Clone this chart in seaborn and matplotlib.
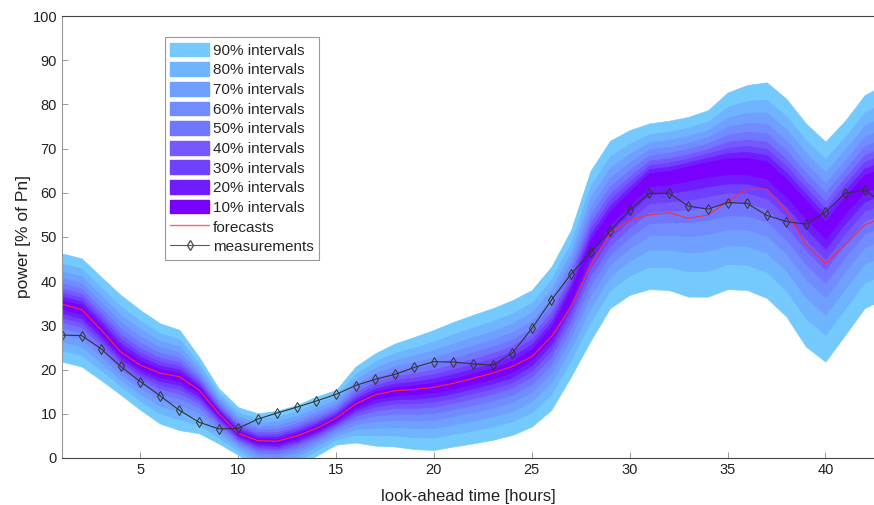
import numpy as np
import pandas as pd
import seaborn as sns
import matplotlib.pyplot as plt
from matplotlib.patches import Patch
from matplotlib.lines import Line2D

# data (hour 43 lies just past the right edge)
hours = list(range(1, 44))
measured = [27.8, 27.7, 24.7, 20.7, 17.3, 14.1, 10.8, 8.1, 6.6, 6.7,
            8.8, 10.2, 11.5, 12.9, 14.4, 16.4, 17.8, 18.9, 20.5, 21.8,
            21.7, 21.3, 21.0, 23.7, 29.3, 35.7, 41.6, 46.5, 51.4, 56.1,
            59.9, 59.9, 57.0, 56.3, 57.8, 57.6, 54.9, 53.5, 52.9, 55.6,
            59.9, 60.6, 57.5]
forecast = [34.8, 33.6, 29.0, 24.0, 21.0, 19.2, 18.4, 15.4, 10.1, 5.6,
            3.9, 3.8, 5.0, 6.7, 9.0, 12.2, 14.3, 15.2, 15.5, 16.0,
            16.9, 18.0, 19.2, 20.7, 22.9, 27.4, 34.2, 43.5, 50.8, 53.8,
            55.0, 55.5, 54.2, 55.0, 58.0, 60.8, 60.8, 56.1, 48.2, 44.0,
            48.2, 52.7, 54.6]
# middle of the darkest (10%) band
center = [34.8, 33.6, 29.0, 24.0, 21.0, 19.2, 18.4, 15.4, 10.1, 5.6,
          3.9, 3.8, 5.0, 6.7, 9.0, 12.2, 14.3, 15.2, 15.5, 16.0,
          16.9, 18.0, 19.2, 20.7, 23.5, 28.5, 37.0, 48.0, 54.5, 59.0,
          63.5, 64.0, 65.0, 66.0, 66.5, 66.5, 65.5, 61.5, 56.8, 52.0,
          57.7, 62.5, 64.0]
upper90 = [46.3, 45.2, 41.0, 36.9, 33.5, 30.5, 29.0, 22.9, 15.8, 11.5,
           10.1, 10.7, 12.0, 13.9, 15.4, 20.7, 23.7, 25.9, 27.4, 29.0,
           30.8, 32.4, 33.9, 35.7, 38.0, 43.3, 51.6, 65.0, 71.8, 74.2,
           75.7, 76.3, 77.2, 78.7, 82.7, 84.4, 85.0, 81.3, 75.7, 71.6,
           76.3, 82.1, 84.5]
lower90 = [21.8, 20.7, 17.6, 14.3, 10.9, 7.8, 6.3, 5.6, 3.3, 0.7,
           -2.5, -3.0, -2.0, 0.5, 3.0, 3.5, 2.8, 2.6, 2.0, 1.8,
           2.6, 3.3, 4.1, 5.2, 7.1, 10.9, 18.4, 26.5, 33.9, 36.9,
           38.2, 38.0, 36.5, 36.5, 38.2, 38.0, 36.2, 32.0, 25.2, 21.8,
           27.8, 33.9, 36.0]

levels = [90, 80, 70, 60, 50, 40, 30, 20, 10]
# relative half-width of each interval, as seen against the 90% one
band_pos = [1.0, 0.8, 0.65, 0.52, 0.41, 0.31, 0.23, 0.155, 0.08]
band_colors = ['#74CAFC', '#6EB4FF', '#70A0FF', '#708CFF', '#7076FF',
               '#7658FF', '#7040FF', '#701CFF', '#7800FF']

df = pd.DataFrame({'hour': hours, 'forecast': forecast, 'measured': measured,
                   'center': center, 'upper': upper90, 'lower': lower90})

sns.set_style('ticks')
plt.rcParams['font.family'] = ['Liberation Sans', 'DejaVu Sans']

fig = plt.figure(figsize=(8.74, 5.05), dpi=100)
ax = fig.add_axes([0.0709, 0.0931, 0.9291, 0.8752])

# nested interval bands, widest first
for lev, pos, col in zip(levels, band_pos, band_colors):
    hi = df['center'] + pos * (df['upper'] - df['center'])
    lo = df['center'] - pos * (df['center'] - df['lower'])
    ax.fill_between(df['hour'], lo, hi, facecolor=col, edgecolor=col, lw=0.4)

sns.lineplot(data=df, x='hour', y='forecast', color='#ff2a3a', lw=0.8, ax=ax)
sns.lineplot(data=df, x='hour', y='measured', color='#333333', lw=0.8,
             marker='d', markersize=5.5, markerfacecolor='none',
             markeredgecolor='#333333', markeredgewidth=0.7, ax=ax)

ax.set_xlim(1, 42.48)
ax.set_ylim(0, 100)
ax.set_xticks([5, 10, 15, 20, 25, 30, 35, 40])
ax.set_yticks(range(0, 101, 10))
ax.tick_params(direction='in', length=4, width=0.6, color='#888888',
               labelsize=10.5, labelcolor='#222222')
ax.set_xlabel('look-ahead time [hours]', fontsize=12, color='#222222',
              labelpad=9)
ax.set_ylabel('power [% of Pn]', fontsize=12.5, color='#222222', labelpad=1)

for side in ['top', 'bottom']:
    ax.spines[side].set_color('#444444')
    ax.spines[side].set_linewidth(0.8)
ax.spines['left'].set_color('#999999')
ax.spines['right'].set_visible(False)

handles = [Patch(facecolor=c, edgecolor=c, label=f'{lev}% intervals')
           for lev, c in zip(levels, band_colors)]
handles.append(Line2D([], [], color='#ff6070', lw=1, label='forecasts'))
handles.append(Line2D([], [], color='#555555', lw=0.8, marker='d', markersize=5.5,
                      markerfacecolor='none', label='measurements'))
leg = ax.legend(handles=handles, loc='upper left', bbox_to_anchor=(0.127, 0.952),
                frameon=True, fancybox=False, edgecolor='#999999', framealpha=1,
                fontsize=11, handlelength=2.5, handleheight=1.0,
                handletextpad=0.3, labelspacing=0.3, borderpad=0.35,
                borderaxespad=0)
leg.get_frame().set_linewidth(0.8)

fig.savefig('out.png', dpi=100)
